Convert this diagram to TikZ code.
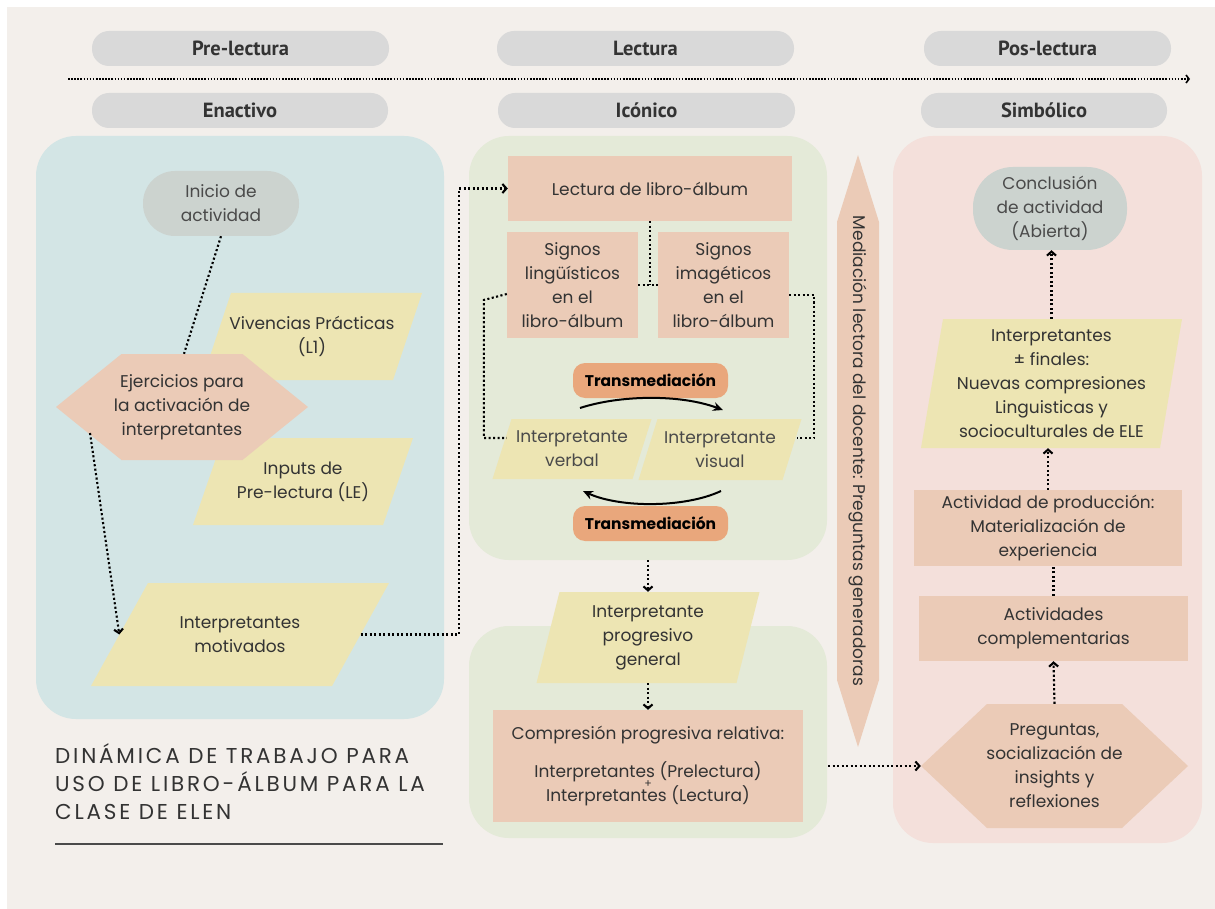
\documentclass[tikz,border=0pt]{standalone}
\usepackage{fontspec}
\setmainfont{Poppins}
\newfontfamily\hdrfont{PT Sans}
\usetikzlibrary{arrows.meta,calc}
\definecolor{bgc}{HTML}{F3EFEB}
\definecolor{bluep}{HTML}{D3E5E5}
\definecolor{greenp}{HTML}{E4EAD8}
\definecolor{pinkp}{HTML}{F4E0DB}
\definecolor{salm}{HTML}{EBCBB7}
\definecolor{yel}{HTML}{EDE5B3}
\definecolor{grayp}{HTML}{CCD3CF}
\definecolor{hdrc}{HTML}{D9D9D9}
\definecolor{orng}{HTML}{E9A77C}
\definecolor{txtc}{HTML}{333333}
\definecolor{txtl}{HTML}{4A4A4A}
\newcommand\mkpara[8][txtc]{%
  \fill[yel] ({#3-#5/2+#7/2},{#4-#6/2}) -- ({#3+#5/2+#7/2},{#4-#6/2}) -- ({#3+#5/2-#7/2},{#4+#6/2}) -- ({#3-#5/2-#7/2},{#4+#6/2}) -- cycle;
  \node[txt, text=#1, minimum width=#5, minimum height=#6] (#2) at (#3,#4) {#8};}
\newcommand\mkhexa[7]{%
  \fill[salm] ({#2-#4/2},#3) -- ({#2-#6/2},{#3-#5/2}) -- ({#2+#6/2},{#3-#5/2}) -- ({#2+#4/2},#3) -- ({#2+#6/2},{#3+#5/2}) -- ({#2-#6/2},{#3+#5/2}) -- cycle;
  \node[txt, minimum width=#4, minimum height=#5] (#1) at (#2,#3) {#7};}
\begin{document}
\begin{tikzpicture}[x=1pt,y=-1pt,
  txt/.style={text=txtc, font=\fontsize{17}{24}\selectfont, align=center, inner sep=0pt},
  hdr/.style={fill=hdrc, rounded corners=17pt, minimum height=35, text=txtc, font=\hdrfont\bfseries\fontsize{20.5}{22}\selectfont, inner sep=0pt},
  panel/.style={rounded corners=40pt, inner sep=0pt},
  box/.style={txt, fill=salm},
  startpill/.style={txt, fill=grayp, text=txtl},
  trans/.style={fill=orng, rounded corners=12pt, minimum width=155, minimum height=35, inner sep=0pt, text=black, font=\bfseries\fontsize{15.5}{17}\selectfont},
  dotline/.style={line width=2.1pt, dash pattern=on 2.1pt off 2.4pt, black},
  arr/.style={dotline, -{Straight Barb[length=4pt,width=9pt]}},
  tarr/.style={line width=2pt, black, -{Stealth[length=10pt,width=9pt]}}
]
\useasboundingbox (0,0) rectangle (1215,909);
\fill[white] (0,0) rectangle (1215,909);
\fill[bgc] (7,7) rectangle (1215,909);

% headers
\node[hdr, minimum width=297] (h1) at (240.5,48.5) {Pre-lectura};
\node[hdr, minimum width=297] (h2) at (645.5,48.5) {Lectura};
\node[hdr, minimum width=247] (h3) at (1047.5,48.5) {Pos-lectura};
\node[hdr, minimum width=296] (e1) at (240,110.5) {Enactivo};
\node[hdr, minimum width=297] (e2) at (646.5,110.5) {Icónico};
\node[hdr, minimum width=246] (e3) at (1044,110.5) {Simbólico};
\coordinate (tl0) at (68,79);
\coordinate (tl1) at (1190,79);
\draw[line width=1.6pt, dash pattern=on 1.6pt off 1.5pt, -{Straight Barb[length=3pt,width=8pt]}] (tl0) -- (tl1);

% panels
\node[panel, fill=bluep, minimum width=408, minimum height=583] (pleft) at (240,427.5) {};
\node[panel, fill=greenp, minimum width=358, minimum height=424] (pmid) at (648,348) {};
\node[panel, fill=greenp, minimum width=358, minimum height=212] (pbot) at (648,732) {};
\node[panel, fill=pinkp, minimum width=309, minimum height=707] (pright) at (1047.5,489.5) {};

% left panel
\node[startpill, rounded corners=32pt, minimum width=156, minimum height=65] (inicio) at (221,203.5) {Inicio de\\actividad};
\mkpara{viv}{312}{336.5}{191}{87}{29}{Vivencias Prácticas\\(L1)}
\mkpara{inp}{303}{481.5}{190}{87}{30}{Inputs de\\Pre-lectura (LE)}
\mkhexa{ejer}{182}{407}{252}{106}{121}{Ejercicios para\\la activación de\\interpretantes}
\mkpara{motiv}{240}{634.5}{241}{103}{57}{Interpretantes\\motivados}

\draw[dotline] (inicio.south) -- ([shift={(2,0)}]ejer.north);
\draw[arr] ([shift={(-92,26)}]ejer.center) -- (motiv.west);

% middle panel
\node[box, minimum width=284, minimum height=65] (lect) at (650,188.5) {Lectura de libro-álbum};
\node[box, minimum width=131, minimum height=106] (sigL) at (572.5,285) {Signos\\lingüísticos\\en el\\libro-álbum};
\node[box, minimum width=131, minimum height=106] (sigI) at (723.5,285) {Signos\\imagéticos\\en el\\libro-álbum};
\draw[arr] (motiv.east) -| ([shift={(-49,0)}]lect.west) -- (lect.west);
\draw[dotline] (lect.south) -- (lect.south |- sigL.east);
\draw[dotline] (sigL.east) -- (sigI.west);

\node[trans] (tr1) at (650.5,380.5) {Transmediación};
\node[trans] (tr2) at (650.5,523.5) {Transmediación};
\mkpara[txtl]{verb}{572}{449}{140}{60}{19}{Interpretante\\verbal}
\mkpara[txtl]{visu}{720}{449.5}{144}{61}{19}{Interpretante\\visual}

\draw[dotline] ([shift={(0,9)}]sigL.west) -- ++(-23,6) |- ([shift={(5,-11)}]verb.west);
\draw[dotline] ([shift={(0,10)}]sigI.east) -| ([shift={(22,-11.5)}]visu.east) -- ([shift={(5,-11.5)}]visu.east);

\coordinate (ta1) at (580,408);
\coordinate (ta2) at (723,410);
\coordinate (tb1) at (721,491);
\coordinate (tb2) at (583,491);
\draw[tarr] (ta1) .. controls (620,395) and (680,394) .. (ta2);
\draw[tarr] (tb1) .. controls (685,508) and (620,508) .. (tb2);

\mkpara{progr}{648}{637.5}{200}{91}{23}{Interpretante\\progresivo\\general}
\draw[arr] (pmid.south) -- (progr.north);
\node[box, minimum width=310, minimum height=112] (comp) at (648,766) {Compresión progresiva relativa:\\[14pt]Interpretantes (Prelectura)\\[-14pt]{\fontsize{11}{11}\selectfont +}\\[-10pt]Interpretantes (Lectura)};
\draw[arr] (progr.south) -- (comp.north);

% mediacion arrow
\fill[salm] (837,222) -- (858,155) -- (879,222) -- (879,680) -- (858,747) -- (837,680) -- cycle;
\node[txt, rotate=-90] (med) at (858,451) {Mediación lectora del docente: Preguntas generadoras};

% right panel
\node[startpill, rounded corners=40pt, minimum width=154, minimum height=83] (concl) at (1050,208.5) {Conclusión\\de actividad\\(Abierta)};
\mkpara{fin}{1051.5}{383.5}{239}{129}{22}{Interpretantes\\± finales:\\Nuevas compresiones\\Linguisticas y\\socioculturales de ELE}
\node[box, minimum width=268, minimum height=76] (prod) at (1048,528) {Actividad de producción:\\Materialización de\\experiencia};
\node[box, minimum width=269, minimum height=65] (compl) at (1053.5,628.5) {Actividades\\complementarias};
\mkhexa{preg}{1054.5}{766}{267}{124}{135}{Preguntas,\\socialización de\\insights y\\reflexiones}

\draw[arr] ([shift={(25,0)}]comp.east) -- (preg.west);
\draw[arr] (preg.north) -- (compl.south);
\draw[dotline] (compl.north) -- (compl.north |- prod.south);
\draw[arr] (prod.north) -- (prod.north |- fin.south);
\draw[arr] (fin.north) -- (fin.north |- concl.south);

% title
\node[anchor=north west, align=left, inner sep=0pt, text=txtc, font=\addfontfeatures{LetterSpace=13}\fontsize{21.5}{28}\selectfont] (title) at (55,743) {DINÁMICA DE TRABAJO PARA\\USO DE LIBRO-ÁLBUM PARA LA\\CLASE DE ELEN};
\coordinate (ul0) at (55,844);
\coordinate (ul1) at (443,844);
\draw[line width=1.3pt, txtl] (ul0) -- (ul1);
\end{tikzpicture}
\end{document}
